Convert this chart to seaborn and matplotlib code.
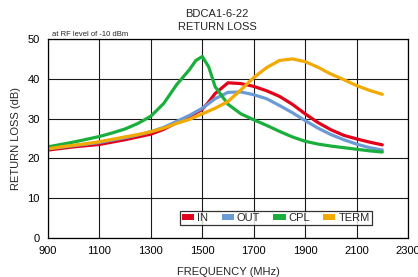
import matplotlib
matplotlib.use("Agg")
import matplotlib.pyplot as plt
from matplotlib.patches import Patch
import seaborn as sns
import pandas as pd

freq = [900, 950, 1000, 1050, 1100, 1150, 1200, 1250, 1300, 1350, 1400, 1450, 1475, 1500,
        1525, 1550, 1600, 1650, 1700, 1750, 1800, 1850, 1900, 1950, 2000, 2050, 2100, 2150, 2200]

rl_in = [22.1, 22.5, 22.9, 23.2, 23.5, 24.1, 24.7, 25.4, 26.1, 27.3, 29.0, 30.6, 31.4, 32.3,
         34.2, 36.3, 39.0, 38.8, 38.1, 37.0, 35.6, 33.6, 31.2, 29.0, 27.2, 25.8, 24.9, 24.1, 23.4]
rl_out = [22.4, 22.8, 23.2, 23.6, 24.0, 24.6, 25.2, 25.9, 26.7, 27.8, 29.3, 30.8, 31.7, 32.6,
          33.8, 35.0, 36.6, 36.7, 36.0, 35.0, 33.3, 31.5, 29.5, 27.6, 26.0, 24.7, 23.6, 22.7, 22.1]
rl_cpl = [22.9, 23.5, 24.1, 24.8, 25.5, 26.4, 27.4, 28.8, 30.6, 33.8, 38.5, 42.3, 44.6, 45.6,
          43.0, 38.0, 33.6, 31.2, 29.7, 28.3, 26.8, 25.4, 24.3, 23.6, 23.1, 22.7, 22.3, 21.9, 21.6]
rl_term = [22.4, 22.9, 23.3, 23.7, 24.2, 24.8, 25.4, 26.0, 26.7, 27.6, 28.8, 29.8, 30.5, 31.2,
           31.9, 32.6, 34.3, 37.2, 40.3, 42.8, 44.6, 45.0, 44.3, 42.9, 41.2, 39.8, 38.3, 37.1, 36.1]

series = ["IN", "OUT", "CPL", "TERM"]
colors = ["#E2001A", "#6B9BD6", "#1AAF3C", "#F2A900"]

df = pd.concat([
    pd.DataFrame({"freq": freq, "rl": vals, "port": name})
    for name, vals in zip(series, [rl_in, rl_out, rl_cpl, rl_term])
])

sns.set_style("white")
plt.rcParams["font.family"] = ["Liberation Sans", "DejaVu Sans"]

fig = plt.figure(figsize=(4.18, 2.77), dpi=100)
ax = fig.add_axes([48 / 418, 39 / 277, 360 / 418, 199 / 277])

sns.lineplot(data=df, x="freq", y="rl", hue="port", hue_order=series,
             palette=colors, linewidth=2.3, ax=ax, legend=False)
for ln in ax.get_lines():
    ln.set_solid_joinstyle("round")

ax.set_xlim(900, 2300)
ax.set_ylim(0, 50)
ax.set_xticks(range(900, 2301, 200))
ax.set_yticks(range(0, 51, 10))
ax.tick_params(axis="both", labelsize=8, colors="black", length=4, width=0.9)
ax.tick_params(axis="x", direction="inout", pad=4)
ax.tick_params(axis="y", direction="out", pad=2)
ax.grid(True, color="#1a1a1a", linewidth=0.8)
ax.set_axisbelow(True)
for s in ax.spines.values():
    s.set_color("black")
    s.set_linewidth(0.9)
ax.set_xlabel("")
ax.set_ylabel("")

handles = [Patch(facecolor=c, edgecolor="none") for c in colors]
leg = ax.legend(handles, series, ncol=4, loc="center", bbox_to_anchor=(0.633, 0.1),
                fontsize=8, frameon=True, fancybox=False, handlelength=1.1,
                handleheight=0.45, handletextpad=0.25, columnspacing=1.2,
                borderpad=0.2, borderaxespad=0)
leg.get_frame().set_edgecolor("black")
leg.get_frame().set_linewidth(0.9)

fig.text(217 / 418, 1 - 14 / 277, "BDCA1-6-22", ha="center", va="center", fontsize=8)
fig.text(217 / 418, 1 - 27 / 277, "RETURN LOSS", ha="center", va="center", fontsize=8)
fig.text(52 / 418, 1 - 34 / 277, "at RF level of -10 dBm", ha="left", va="center", fontsize=5.5)
fig.text(16 / 418, 1 - 138 / 277, "RETURN LOSS (dB)", ha="center", va="center",
         rotation=90, fontsize=8)
fig.text(228 / 418, 1 - 272 / 277, "FREQUENCY (MHz)", ha="center", va="center", fontsize=8)

fig.savefig("out.png", dpi=100)
plt.close(fig)
